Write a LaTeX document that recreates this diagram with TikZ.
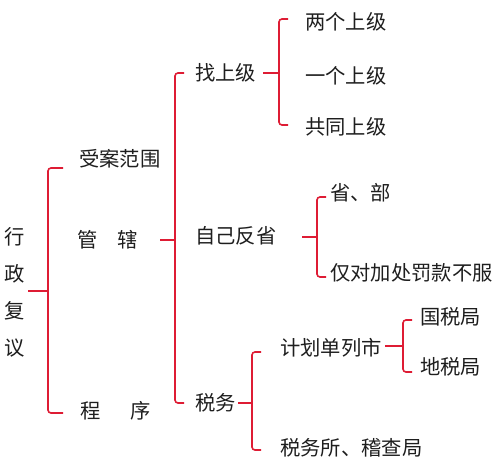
\documentclass[tikz,border=0pt]{standalone}
\usepackage{fontspec}
\newfontfamily\cjk{Noto Sans CJK SC}
\definecolor{brred}{RGB}{222,28,52}
\definecolor{txt}{RGB}{30,30,30}
\begin{document}
\begin{tikzpicture}[x=1pt,y=-1pt,
  lbl/.style={anchor=west,inner sep=0pt,text=txt,font=\cjk\fontsize{20.3}{24}\selectfont},
  br/.style={draw=brred,line width=1.6pt,rounded corners=3pt},
  tk/.style={draw=brred,line width=1.6pt}]
\useasboundingbox[fill=white] (0,0) rectangle (500,469);
% text nodes
\node[inner sep=0pt,text=txt,align=center,font=\cjk\fontsize{20.3}{37}\selectfont] (root) at (15,292) {行\\政\\复\\议};
\node[lbl] (sa) at (79,159) {受案范围};
\node[lbl] (gx) at (77,240) {管\hspace{20pt}辖};
\node[lbl] (cx) at (80,411) {程\hspace{30pt}序};
\node[lbl] (zsj) at (195,73) {找上级};
\node[lbl] (lg) at (305,22) {两个上级};
\node[lbl] (yg) at (305,76) {一个上级};
\node[lbl] (gt) at (305,127) {共同上级};
\node[lbl] (zj) at (195,236) {自己反省};
\node[lbl] (sb) at (330,193) {省、部};
\node[lbl] (jd) at (330,273) {仅对加处罚款不服};
\node[lbl] (sw) at (195,403) {税务};
\node[lbl] (jh) at (280,348) {计划单列市};
\node[lbl] (gs) at (420,317) {国税局};
\node[lbl] (ds) at (420,367) {地税局};
\node[lbl] (swj) at (280,448) {税务所、稽查局};
% brace junctions
\coordinate (b1) at (48,291);
\coordinate (b2) at (175,240);
\coordinate (b3) at (279,73);
\coordinate (b4) at (317,237);
\coordinate (b5) at (252,403);
\coordinate (b6) at (403,346);
% brace 1
\draw[br] (63,168) -- (48,168) -- (48,413) -- (63,413);
\draw[tk] (28,291) -- (b1);
% brace 2
\draw[br] (184,73) -- (175,73) -- (175,403) -- (184,403);
\draw[tk] (160,240) -- (b2);
% brace 3
\draw[br] (288,19) -- (279,19) -- (279,125) -- (288,125);
\draw[tk] (263,73) -- (b3);
% brace 4
\draw[br] (326,197) -- (317,197) -- (317,277) -- (326,277);
\draw[tk] (302,237) -- (b4);
% brace 5
\draw[br] (261,352) -- (252,352) -- (252,450) -- (261,450);
\draw[tk] (238,403) -- (b5);
% brace 6
\draw[br] (412,320) -- (403,320) -- (403,372) -- (412,372);
\draw[tk] (385,346) -- (b6);
\end{tikzpicture}
\end{document}
